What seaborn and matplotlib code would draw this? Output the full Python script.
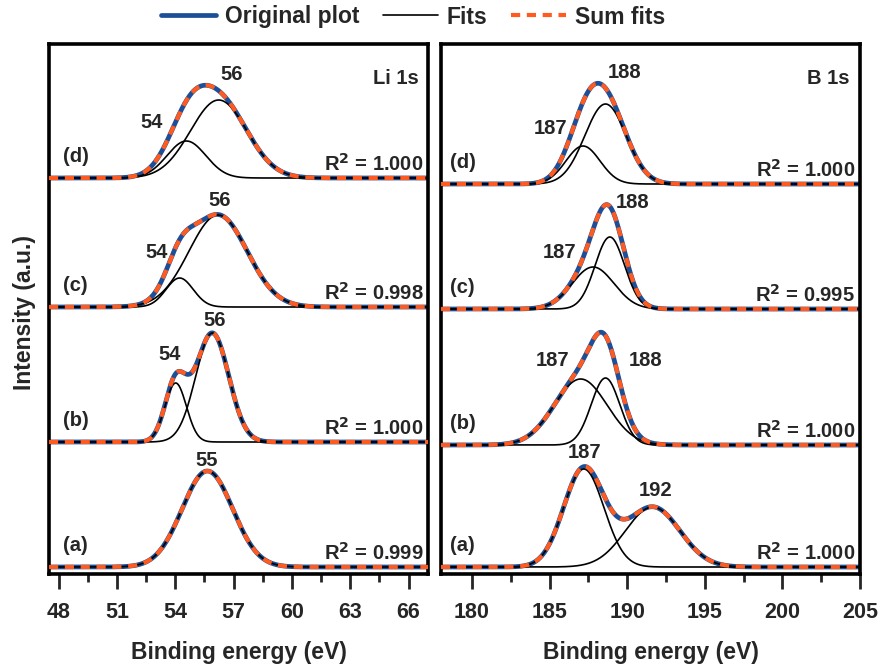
import numpy as np
import pandas as pd
import matplotlib
matplotlib.use("Agg")
import matplotlib.pyplot as plt
from matplotlib.lines import Line2D
from matplotlib.ticker import MultipleLocator
import seaborn as sns

sns.set_theme(style="white")
plt.rcParams['font.family'] = ['Liberation Sans', 'DejaVu Sans']
plt.rcParams['font.weight'] = 'bold'

# ---------------- data ----------------
spectra = ["(a)", "(b)", "(c)", "(d)"]

# Li 1s: peak centres (eV), widths (sigma, eV), heights (a.u.)
li_centers = [[55.65], [54.02, 55.90], [54.22, 56.20], [54.57, 56.23]]
li_sigmas = [[1.30], [0.55, 0.85], [0.70, 1.50], [1.00, 1.45]]
li_heights = [[96], [59, 109], [29, 92], [37, 78]]
li_offsets = [7, 132, 267, 396]
li_r2 = ["0.999", "1.000", "0.998", "1.000"]
li_peak_labels = [["55"], ["54", "56"], ["54", "56"], ["54", "56"]]

# B 1s
b_centers = [[187.2, 191.64], [187.0, 188.6], [187.8, 188.88], [187.15, 188.6]]
b_sigmas = [[1.30, 1.75], [1.70, 0.92], [1.35, 0.95], [1.10, 1.33]]
b_heights = [[98, 60], [66, 67], [42, 72], [38, 80]]
b_offsets = [7, 129, 265, 390]
b_r2 = ["1.000", "1.000", "0.995", "1.000"]
b_peak_labels = [["187", "192"], ["187", "188"], ["187", "188"], ["187", "188"]]

li_xlim = (47.5, 67.0)
b_xlim = (178.0, 205.0)

BLUE = "#1d4f98"
ORANGE = "#ff5a1f"
DASH = (0, (2.2, 1.6))


def gauss(x, c, s, h):
    return h * np.exp(-(x - c) ** 2 / (2 * s ** 2))


fig = plt.figure(figsize=(8.84, 6.66), dpi=100)
axL = fig.add_axes([49 / 884, 1 - 574 / 666, 379 / 884, 530 / 666])
axR = fig.add_axes([441 / 884, 1 - 574 / 666, 419 / 884, 530 / 666])


def draw_panel(ax, xlim, centers, sigmas, heights, offsets, r2s,
               title, lab_x, minor, ticks):
    x = np.linspace(xlim[0], xlim[1], 1200)
    for i in range(len(spectra)):
        comps = [gauss(x, c, s, h) for c, s, h in zip(centers[i], sigmas[i], heights[i])]
        total = np.sum(comps, axis=0) + offsets[i]
        df = pd.DataFrame({"x": x, "y": total})
        sns.lineplot(data=df, x="x", y="y", ax=ax, color=BLUE, lw=3.4,
                     estimator=None, sort=False, zorder=2)
        for comp in comps:
            dfc = pd.DataFrame({"x": x, "y": comp + offsets[i]})
            sns.lineplot(data=dfc, x="x", y="y", ax=ax, color="black", lw=1.2,
                         estimator=None, sort=False, zorder=3)
        sns.lineplot(data=df, x="x", y="y", ax=ax, color=ORANGE, lw=3.0,
                     estimator=None, sort=False, zorder=4, linestyle=DASH)
        ax.text(lab_x, offsets[i] + 12, spectra[i], fontsize=14.5,
                fontweight='bold', ha='left', va='bottom')
        ax.text(xlim[1] - 0.012 * (xlim[1] - xlim[0]), offsets[i] + 3,
                r"R$^\mathbf{2}$ = " + r2s[i], fontsize=14.5, fontweight='bold',
                ha='right', va='bottom')
    ax.set_xlim(*xlim)
    ax.set_ylim(0, 530)
    ax.set_yticks([])
    ax.xaxis.set_minor_locator(MultipleLocator(minor))
    ax.set_xticks(ticks)
    ax.set_xticklabels([str(t) for t in ticks])
    ax.tick_params(axis='x', which='major', direction='out', length=11, width=2,
                   labelsize=15.5, pad=9, bottom=True)
    ax.tick_params(axis='x', which='minor', direction='out', length=6, width=2,
                   bottom=True)
    for lab in ax.get_xticklabels():
        lab.set_fontweight('bold')
    for sp in ax.spines.values():
        sp.set_linewidth(2.6)
        sp.set_color('black')
    ax.set_xlabel("Binding energy (eV)", fontsize=16.5, fontweight='bold', labelpad=13)
    ax.set_ylabel("")
    ax.text(0.975, 0.935, title, transform=ax.transAxes, fontsize=14.5,
            fontweight='bold', ha='right', va='center')


draw_panel(axL, li_xlim, li_centers, li_sigmas, li_heights, li_offsets, li_r2,
           "Li 1s", 48.2, 1.5, [48, 51, 54, 57, 60, 63, 66])
draw_panel(axR, b_xlim, b_centers, b_sigmas, b_heights, b_offsets, b_r2,
           "B 1s", 178.6, 2.5, [180, 185, 190, 195, 200, 205])

# peak label anchor points (data coords)
li_label_xy = [[(55.61, 114)], [(53.71, 220), (56.02, 254)],
               [(53.05, 322), (56.28, 374)], [(52.76, 452), (56.9, 500)]]
b_label_xy = [[(187.23, 121), (191.82, 84)], [(185.22, 213), (191.17, 214)],
              [(185.61, 322), (190.33, 371)], [(185.09, 446), (189.81, 502)]]
for ax, labs, xys in [(axL, li_peak_labels, li_label_xy), (axR, b_peak_labels, b_label_xy)]:
    for labs_i, xys_i in zip(labs, xys):
        for t, (px, py) in zip(labs_i, xys_i):
            ax.text(px, py, t, fontsize=14.5, fontweight='bold', ha='center', va='center')

fig.text(25 / 884, 1 - 312 / 666, "Intensity (a.u.)", rotation=90, fontsize=16.5,
         fontweight='bold', ha='center', va='center')

handles = [Line2D([], [], color=BLUE, lw=3.4),
           Line2D([], [], color='black', lw=1.2),
           Line2D([], [], color=ORANGE, lw=3.0, linestyle=DASH)]
fig.legend(handles, ["Original plot", "Fits", "Sum fits"], loc='center',
           bbox_to_anchor=(413 / 884, 1 - 17 / 666), ncol=3, frameon=False,
           prop={'weight': 'bold', 'size': 16.5}, handlelength=2.4,
           columnspacing=1.0, handletextpad=0.4)

fig.savefig("out.png", dpi=100)
